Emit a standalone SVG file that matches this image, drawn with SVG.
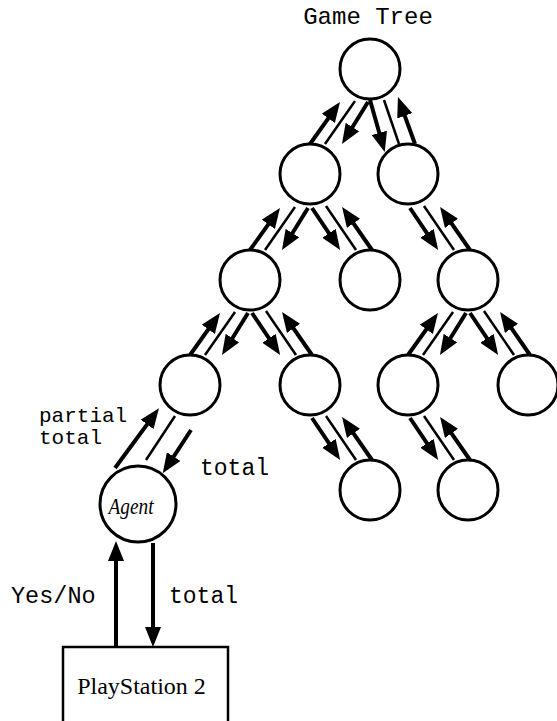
<svg xmlns="http://www.w3.org/2000/svg" xmlns:xlink="http://www.w3.org/1999/xlink" width="557" height="721" viewBox="0 0 557 721">
  <style>
    .node { fill: #fff; stroke: #000; stroke-width: 3; }
    .thick { stroke: #000; stroke-width: 4; fill: none; marker-end: url(#head); }
    .thin { stroke: #000; stroke-width: 2.5; fill: none; }
    .mono { font-family: "Liberation Mono", "Courier New", monospace; fill: #000; }
    .serif { font-family: "Liberation Serif", "Times New Roman", serif; fill: #000; }
    .box { fill: #fff; stroke: #000; stroke-width: 2.5; }
  </style>
  <defs>
    <!-- arrowhead: tip reaches 6px past the line end so the stroke stays hidden -->
    <marker id="head" markerUnits="userSpaceOnUse" markerWidth="20" markerHeight="16" refX="14" refY="8" orient="auto">
      <path d="M0,0 L20,8 L0,16 z" fill="#000"/>
    </marker>
    <!-- edge bundle to a child down-left, coordinates relative to the child centre -->
    <g id="edge-left">
      <line class="thick" x1="0" y1="-30" x2="26.5" y2="-67.1"/>
      <line class="thin" x1="15" y1="-30" x2="45" y2="-73"/>
      <line class="thick" x1="58" y1="-72" x2="35.1" y2="-35"/>
    </g>
    <!-- edge bundle to a child down-right, coordinates relative to the child centre -->
    <g id="edge-right">
      <line class="thick" x1="2" y1="-30" x2="-24.5" y2="-68.1"/>
      <line class="thin" x1="-14" y1="-30" x2="-44" y2="-74"/>
      <line class="thick" x1="-58" y1="-72" x2="-33.2" y2="-35.1"/>
    </g>
  </defs>

  <rect width="557" height="721" fill="#fff"/>

  <text class="mono" x="368" y="24" font-size="24" text-anchor="middle">Game Tree</text>

  <g id="connectors">
    <!-- root to its right child (steeper bundle) -->
    <line class="thick" x1="370" y1="100" x2="383.1" y2="146.3"/>
    <line class="thin" x1="384" y1="100" x2="399" y2="144"/>
    <line class="thick" x1="415" y1="144" x2="400" y2="102.6"/>

    <use xlink:href="#edge-left" x="310" y="174"/>
    <use xlink:href="#edge-left" x="250" y="280"/>
    <use xlink:href="#edge-left" x="190" y="385"/>
    <use xlink:href="#edge-left" x="408" y="385"/>

    <use xlink:href="#edge-right" x="370" y="280"/>
    <use xlink:href="#edge-right" x="468" y="280"/>
    <use xlink:href="#edge-right" x="310" y="385"/>
    <use xlink:href="#edge-right" x="528" y="385"/>
    <use xlink:href="#edge-right" x="370" y="490"/>
    <use xlink:href="#edge-right" x="468" y="490"/>

    <!-- agent to the tree -->
    <line class="thick" x1="115" y1="468" x2="155.4" y2="413.1"/>
    <line class="thin" x1="146" y1="460" x2="175" y2="416"/>
    <line class="thick" x1="191" y1="430" x2="166" y2="468.3"/>

    <!-- console to agent -->
    <line class="thick" x1="116" y1="647" x2="116" y2="547"/>
    <line class="thick" x1="153" y1="543" x2="153" y2="641"/>
  </g>

  <g id="root"><circle class="node" cx="370" cy="69" r="30"/></g>
  <g id="n1-left"><circle class="node" cx="310" cy="174" r="30"/></g>
  <g id="n1-right"><circle class="node" cx="408" cy="174" r="30"/></g>
  <g id="n2-a"><circle class="node" cx="250" cy="280" r="30"/></g>
  <g id="n2-b"><circle class="node" cx="370" cy="280" r="30"/></g>
  <g id="n2-c"><circle class="node" cx="468" cy="280" r="30"/></g>
  <g id="n3-a"><circle class="node" cx="190" cy="385" r="30"/></g>
  <g id="n3-b"><circle class="node" cx="310" cy="385" r="30"/></g>
  <g id="n3-c"><circle class="node" cx="408" cy="385" r="30"/></g>
  <g id="n3-d"><circle class="node" cx="528" cy="385" r="30"/></g>
  <g id="n4-a"><circle class="node" cx="370" cy="490" r="30"/></g>
  <g id="n4-b"><circle class="node" cx="468" cy="490" r="30"/></g>

  <g id="agent">
    <circle class="node" cx="138" cy="504" r="38"/>
    <text class="serif" x="131" y="514" font-size="23" font-style="italic" text-anchor="middle" textLength="45" lengthAdjust="spacingAndGlyphs">Agent</text>
  </g>

  <g id="playstation">
    <rect class="box" x="63" y="647" width="165" height="90"/>
    <text class="serif" x="141.5" y="694" font-size="24" text-anchor="middle">PlayStation 2</text>
  </g>

  <g id="labels">
    <text class="mono" x="39" y="422" font-size="21">partial</text>
    <text class="mono" x="39" y="444" font-size="21">total</text>
    <text class="mono" x="200" y="475" font-size="23">total</text>
    <text class="mono" x="11" y="603" font-size="23.5">Yes/No</text>
    <text class="mono" x="169" y="603" font-size="23">total</text>
  </g>
</svg>
